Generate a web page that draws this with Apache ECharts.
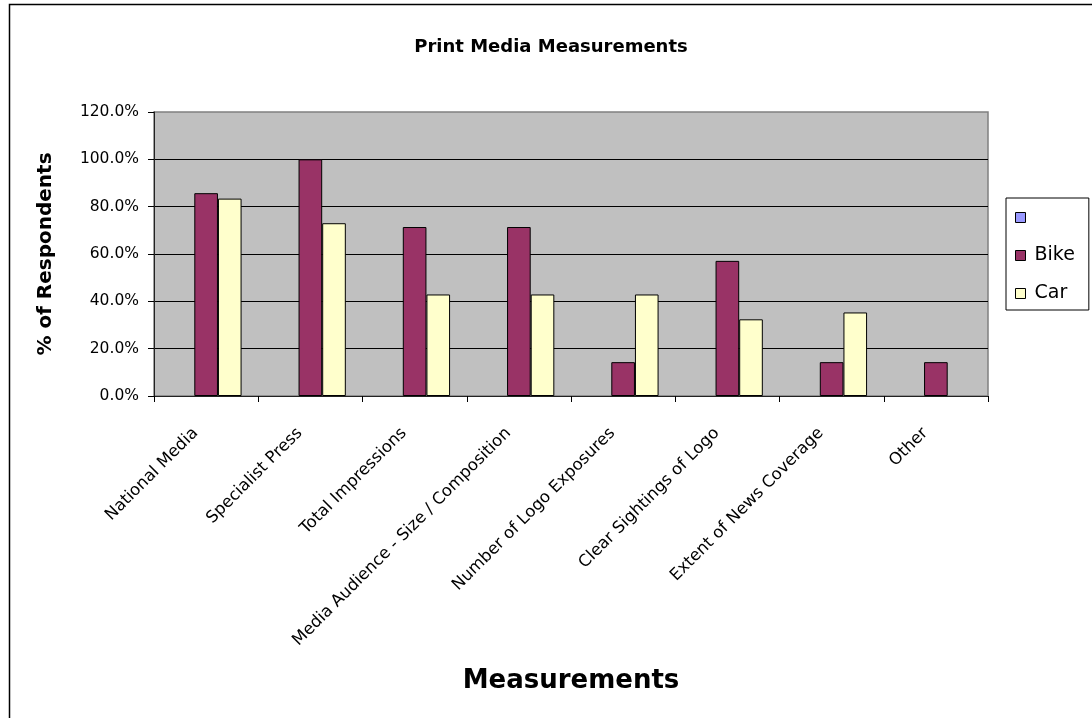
<!DOCTYPE html>
<html>
<head>
<meta charset="utf-8">
<script src="https://cdn.jsdelivr.net/npm/echarts@6/dist/echarts.min.js"></script>
<style>
  html, body { margin: 0; padding: 0; background: #fff; }
  #chart { width: 1092px; height: 718px; }
</style>
</head>
<body>
<div id="chart"></div>
<script>
// categories + values (percent of respondents)
const categories = [
  'National Media',
  'Specialist Press',
  'Total Impressions',
  'Media Audience - Size / Composition',
  'Number of Logo Exposures',
  'Clear Sightings of Logo',
  'Extent of News Coverage',
  'Other'
]
const blankValues = [null, null, null, null, null, null, null, null]
const bikeValues = [85.7, 100, 71.4, 71.4, 14.3, 57.1, 14.3, 14.3]
const carValues = [83.4, 73.0, 42.9, 42.9, 42.9, 32.4, 35.3, null]
const yTicks = { min: 0, max: 120, interval: 20 }

const FONT = '"DejaVu Sans", Arial, sans-serif'

const chart = echarts.init(document.getElementById('chart'))

const barStyle = (color) => ({
  color: color,
  borderColor: '#000',
  borderWidth: 1
})

chart.setOption({
  animation: false,
  backgroundColor: '#fff',
  textStyle: { fontFamily: FONT, color: '#000' },
  title: {
    text: 'Print Media Measurements',
    left: 546,
    top: 33,
    textAlign: 'center',
    textStyle: { fontFamily: FONT, fontSize: 18, fontWeight: 'bold', color: '#000' }
  },
  graphic: [
    {
      type: 'rect',
      shape: { x: 9.5, y: 4.5, width: 1200, height: 800 },
      style: { fill: 'none', stroke: '#000', lineWidth: 1.5 },
      silent: true,
      z: 100
    }
  ],
  legend: {
    orient: 'vertical',
    left: 1006,
    top: 198,
    padding: [10, 14, 7, 9],
    itemGap: 19,
    itemWidth: 10,
    itemHeight: 10,
    borderColor: '#000',
    borderWidth: 1,
    backgroundColor: '#fff',
    icon: 'rect',
    data: [' ', 'Bike', 'Car'],
    textStyle: { fontFamily: FONT, fontSize: 19, color: '#000', padding: [0, 0, 0, 4] },
    itemStyle: { borderColor: '#000', borderWidth: 1 }
  },
  grid: {
    left: 154,
    right: 104,
    top: 112,
    bottom: 322,
    show: true,
    backgroundColor: '#c0c0c0',
    borderColor: '#808080',
    borderWidth: 1.5
  },
  xAxis: {
    type: 'category',
    data: categories,
    name: 'Measurements',
    nameLocation: 'middle',
    nameGap: 272,
    nameTextStyle: { fontFamily: FONT, fontSize: 26, fontWeight: 'bold', color: '#000' },
    axisLine: { lineStyle: { color: '#222', width: 1 } },
    axisTick: { show: true, length: 6, alignWithLabel: false, lineStyle: { color: '#000' } },
    axisLabel: {
      interval: 0,
      rotate: 45,
      margin: 24,
      padding: [0, 15, 0, 0],
      fontFamily: FONT,
      fontSize: 16.5,
      color: '#000'
    },
    splitLine: { show: false }
  },
  yAxis: {
    type: 'value',
    min: yTicks.min,
    max: yTicks.max,
    interval: yTicks.interval,
    name: '% of Respondents',
    nameLocation: 'middle',
    nameGap: 98,
    nameTextStyle: { fontFamily: FONT, fontSize: 20, fontWeight: 'bold', color: '#000' },
    axisLine: { show: true, lineStyle: { color: '#222', width: 1 } },
    axisTick: { show: true, length: 6, lineStyle: { color: '#000' } },
    axisLabel: {
      margin: 15,
      fontFamily: FONT,
      fontSize: 15.5,
      color: '#000',
      formatter: (v) => v.toFixed(1) + '%'
    },
    splitLine: { show: true, showMaxLine: false, lineStyle: { color: '#000', width: 1 } }
  },
  series: [
    {
      name: ' ',
      type: 'bar',
      data: blankValues,
      barGap: '0%',
      barCategoryGap: '32%',
      itemStyle: barStyle('#9999ff')
    },
    {
      name: 'Bike',
      type: 'bar',
      data: bikeValues,
      barGap: '0%',
      barCategoryGap: '32%',
      itemStyle: barStyle('#993366')
    },
    {
      name: 'Car',
      type: 'bar',
      data: carValues,
      barGap: '0%',
      barCategoryGap: '32%',
      itemStyle: barStyle('#ffffcc')
    }
  ]
})

window.addEventListener('resize', () => chart.resize())
</script>
</body>
</html>
